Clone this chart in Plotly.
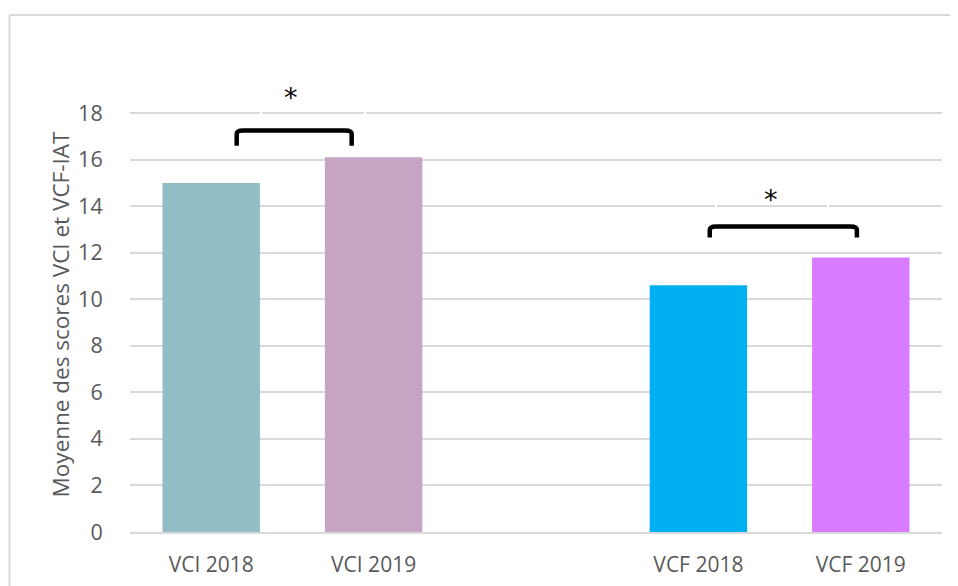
import plotly.graph_objects as go

# --- data ---------------------------------------------------------------
CATEGORIES = ["VCI 2018", "VCI 2019", " ", "VCF 2018", "VCF 2019"]
SCORES = [15.0, 16.1, None, 10.6, 11.8]
COLORS = ["#93BDC4", "#C6A4C4", "rgba(0,0,0,0)", "#00B0F0", "#D97BFF"]
Y_TICKS = [0, 2, 4, 6, 8, 10, 12, 14, 16, 18]
Y_TITLE = "Moyenne des scores VCI et VCF-IAT"

# significance brackets: (x left, x right, y top, y leg end, x star, y star,
#                         text-box centre x, text-box centre y, box width)
BRACKETS = [
    (0.157, 0.865, 17.25, 16.6, 0.49, 18.65, 0.628, 18.55, 102),
    (3.07, 3.976, 13.13, 12.65, 3.45, 14.3, 3.456, 14.24, 110),
]

INK = "#595959"
GRID = "#D9D9D9"
FONT = "Open Sans"

fig = go.Figure(go.Bar(
    x=CATEGORIES, y=SCORES, width=0.6,
    marker=dict(color=COLORS, line=dict(width=0)),
    hoverinfo="skip",
))

for x0, x1, ytop, yleg, xs, ys, bx, by, bw in BRACKETS:
    r = 0.04  # corner rounding in x units
    ry = 0.15
    path = (f"M {x0},{yleg} L {x0},{ytop - ry} Q {x0},{ytop} {x0 + r},{ytop} "
            f"L {x1 - r},{ytop} Q {x1},{ytop} {x1},{ytop - ry} L {x1},{yleg}")
    fig.add_shape(type="path", path=path, xref="x", yref="y",
                  line=dict(color="black", width=4.5))
    # invisible Excel-like text box: only its white outline cuts the gridline
    fig.add_annotation(x=bx, y=by, xref="x", yref="y", text=" ", showarrow=False,
                       width=bw, height=38, bordercolor="white", borderwidth=2,
                       borderpad=0)
    fig.add_annotation(x=xs, y=ys, xref="x", yref="y", text="*", showarrow=False,
                       font=dict(family="DejaVu Sans", size=27, color="black"))

# y-axis title placed like Excel (centred on the 0-18 span)
fig.add_annotation(text=Y_TITLE, xref="paper", yref="paper", x=-0.0862, y=0.425,
                   textangle=-90, showarrow=False, xanchor="center", yanchor="middle",
                   font=dict(family=FONT, size=22.5, color=INK))

# chart frame (left + top edges visible); page body adds an 8px offset
fig.add_shape(type="line", xref="paper", yref="paper", x0=-0.1484, x1=1.05,
              y0=1.0098, y1=1.0098, line=dict(color=GRID, width=2))
fig.add_shape(type="line", xref="paper", yref="paper", x0=-0.1484, x1=-0.1484,
              y0=-0.2, y1=1.0098, line=dict(color=GRID, width=2))

fig.update_layout(
    width=950, height=578,
    margin=dict(l=122, r=16, t=12, b=54),
    paper_bgcolor="white", plot_bgcolor="white",
    font=dict(family=FONT, size=21, color=INK),
    showlegend=False, bargap=0.4,
)
fig.update_xaxes(
    type="category", categoryorder="array", categoryarray=CATEGORIES,
    showgrid=False, showline=True, linecolor=GRID, linewidth=2,
    ticks="outside", ticklen=13, tickcolor="rgba(0,0,0,0)",
    tickfont=dict(size=21, color=INK), automargin=False,
)
fig.update_yaxes(
    range=[0, 22], tickvals=Y_TICKS, showgrid=True, gridcolor=GRID, gridwidth=1.6,
    zeroline=False, showline=False,
    ticks="outside", ticklen=22, tickcolor="rgba(0,0,0,0)",
    tickfont=dict(size=21.5, color=INK), automargin=False,
)

fig.write_html("out.html")
